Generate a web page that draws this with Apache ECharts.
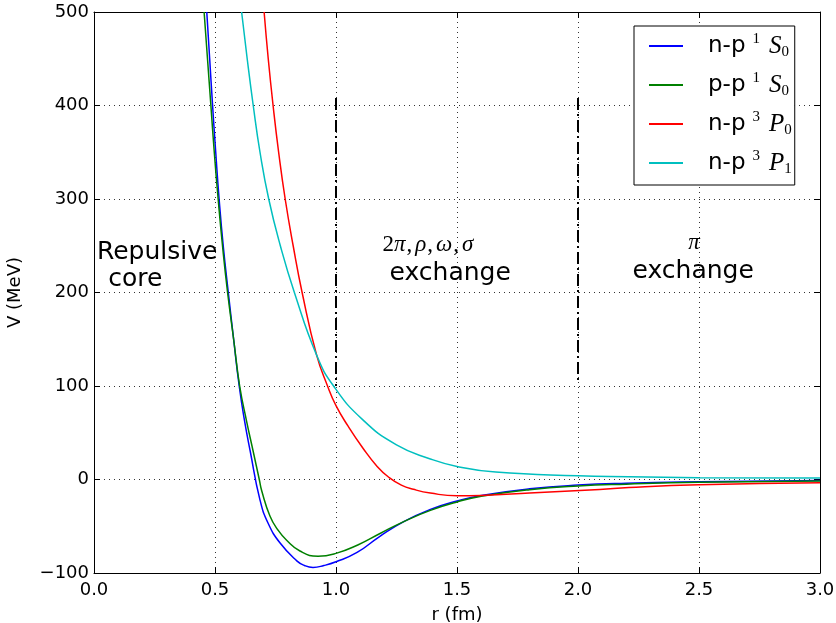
<!DOCTYPE html>
<html>
<head>
<meta charset="utf-8">
<script src="https://cdn.jsdelivr.net/npm/echarts@6/dist/echarts.min.js"></script>
<style>
  html, body { margin: 0; padding: 0; background: #fff; }
  #chart { width: 836px; height: 623px; }
</style>
</head>
<body>
<div id="chart"></div>
<script>
// Nucleon-nucleon potentials V(r) in MeV against separation r in fm.
const rNP1S0 = [0.466, 0.478, 0.490, 0.503, 0.517, 0.534, 0.555, 0.577, 0.600, 0.622, 0.645, 0.686, 0.720, 0.769, 0.838, 0.870, 0.905, 0.950, 1.000, 1.087, 1.180, 1.280, 1.390, 1.500, 1.600, 1.800, 2.000, 2.200, 2.500, 3.000];
const vNP1S0 = [500, 450, 400, 350, 300, 250, 200, 150, 100, 63, 31, -22, -47, -68, -87, -92, -94, -92, -88, -78, -61, -45, -32, -23, -17, -10, -6, -4, -2.5, -1];

const rPP1S0 = [0.455, 0.469, 0.483, 0.497, 0.513, 0.531, 0.552, 0.577, 0.602, 0.630, 0.657, 0.683, 0.693, 0.727, 0.760, 0.796, 0.851, 0.926, 1.000, 1.090, 1.180, 1.280, 1.390, 1.500, 1.600, 1.800, 2.000, 2.200, 2.500, 3.000];
const vPP1S0 = [500, 450, 400, 350, 300, 250, 200, 150, 100, 63, 31, 0, -12, -39, -54, -65, -76.5, -82, -79, -70, -58, -45, -33, -24, -18, -11, -7, -5, -3, -1.5];

const rNP3P0 = [0.703, 0.720, 0.740, 0.763, 0.790, 0.823, 0.860, 0.920, 0.965, 1.000, 1.050, 1.110, 1.170, 1.220, 1.270, 1.320, 1.390, 1.500, 1.600, 1.800, 2.090, 2.210, 2.500, 3.000];
const vNP3P0 = [500, 450, 400, 350, 300, 250, 200, 133, 100, 79, 57, 34, 14, 2, -6, -10.5, -14.5, -17.5, -17, -14.5, -10.7, -8.6, -5.7, -3.5];

const rNP3P1 = [0.610, 0.633, 0.658, 0.686, 0.722, 0.770, 0.828, 0.920, 0.990, 1.110, 1.250, 1.390, 1.500, 1.660, 2.000, 2.210, 2.500, 3.000];
const vNP3P1 = [500, 450, 400, 350, 300, 250, 200, 133, 100, 64, 37, 22, 14, 8, 4, 3, 2, 1.5];

// Legend pieces: pair, spin multiplicity, orbital letter, total J
const curveNames = ['n-p 1S0', 'p-p 1S0', 'n-p 3P0', 'n-p 3P1'];
const pairLabels = ['n-p', 'p-p', 'n-p', 'n-p'];
const spinLabels = ['1', '1', '3', '3'];
const waveLabels = ['S', 'S', 'P', 'P'];
const jLabels = ['0', '0', '0', '1'];
const curveColors = ['#0000ff', '#008000', '#ff0000', '#00bfbf'];

// Axis ticks
const xTickStep = 0.5, xMin = 0, xMax = 3;
const yTickStep = 100, yMin = -100, yMax = 500;

// Region boundaries (dash-dot) at r = 1 fm and 2 fm
const dividerR = [1.0, 2.0];
const dividerTop = [408, 408];
const dividerBottom = [100, 105];

// Region annotations
const notes = [
  { text: 'Repulsive', r: 0.012, v: 243, align: 'left', kind: 'sans' },
  { text: ' core', r: 0.026, v: 214, align: 'left', kind: 'sans' },
  { text: '{n|2}{g|π}{c|,}{g|ρ}{c|,}{g|ω}{c|,}{g|σ}', r: 1.192, v: 251, align: 'left', kind: 'math' },
  { text: 'exchange', r: 1.472, v: 220, align: 'center', kind: 'sans' },
  { text: '{g|π}', r: 2.479, v: 253, align: 'center', kind: 'math' },
  { text: 'exchange', r: 2.476, v: 222, align: 'center', kind: 'sans' }
];

const SANS = 'DejaVu Sans';
const SERIF = 'Liberation Serif';

const curves = [
  [rNP1S0, vNP1S0], [rPP1S0, vPP1S0], [rNP3P0, vNP3P0], [rNP3P1, vNP3P1]
];

const toPairs = (rs, vs) => rs.map((r, i) => [r, vs[i]]);

const lineSeries = curves.map((c, i) => ({
  name: curveNames[i],
  type: 'line',
  data: toPairs(c[0], c[1]),
  smooth: 0.5,
  symbol: 'none',
  clip: true,
  color: curveColors[i],
  lineStyle: { color: curveColors[i], width: 1.5 },
  emphasis: { disabled: true },
  z: 3
}));

const dividerSeries = dividerR.map((r, i) => ({
  name: 'divider' + i,
  type: 'line',
  data: [[r, dividerTop[i]], [r, dividerBottom[i]]],
  symbol: 'none',
  silent: true,
  lineStyle: { color: '#000', width: 2, type: [12, 4, 2, 4] },
  z: 2
}));

const fmtY = v => (v < 0 ? '\u2212' + Math.abs(v) : String(v));
const fmtX = v => v.toFixed(1);

const chart = echarts.init(document.getElementById('chart'), null, { renderer: 'canvas' });

chart.setOption({
  animation: false,
  backgroundColor: '#fff',
  grid: { left: 94, right: 16, top: 12, bottom: 50, containLabel: false, outerBoundsMode: 'none' },
  xAxis: [
    {
      type: 'value', min: xMin, max: xMax, interval: xTickStep,
      name: 'r (fm)', nameLocation: 'middle', nameGap: 33,
      nameTextStyle: { fontFamily: SANS, fontSize: 18, color: '#000' },
      axisLine: { onZero: false, lineStyle: { color: '#000', width: 1 } },
      axisTick: { inside: true, length: 6, lineStyle: { color: '#000' } },
      axisLabel: { formatter: fmtX, fontFamily: SANS, fontSize: 18, color: '#000', margin: 8 },
      splitLine: { show: true, lineStyle: { color: '#333', width: 1, type: [1, 4] } }
    },
    {
      type: 'value', min: xMin, max: xMax, interval: xTickStep, position: 'top',
      axisLine: { onZero: false, lineStyle: { color: '#000', width: 1 } },
      axisTick: { inside: true, length: 6, lineStyle: { color: '#000' } },
      axisLabel: { show: false }, splitLine: { show: false }
    }
  ],
  yAxis: [
    {
      type: 'value', min: yMin, max: yMax, interval: yTickStep,
      name: 'V (MeV)', nameLocation: 'middle', nameGap: 70,
      nameTextStyle: { fontFamily: SANS, fontSize: 18, color: '#000' },
      axisLine: { show: true, onZero: false, lineStyle: { color: '#000', width: 1 } },
      axisTick: { show: true, inside: true, length: 6, lineStyle: { color: '#000' } },
      axisLabel: { formatter: fmtY, fontFamily: SANS, fontSize: 18, color: '#000', margin: 5 },
      splitLine: { show: true, lineStyle: { color: '#333', width: 1, type: [1, 4] } }
    },
    {
      type: 'value', min: yMin, max: yMax, interval: yTickStep, position: 'right',
      axisLine: { show: true, onZero: false, lineStyle: { color: '#000', width: 1 } },
      axisTick: { show: true, inside: true, length: 6, lineStyle: { color: '#000' } },
      axisLabel: { show: false }, splitLine: { show: false }
    }
  ],
  legend: {
    data: curveNames,
    orient: 'vertical',
    left: 634, top: 26,
    padding: [6, 3, 8, 15],
    itemWidth: 34, itemHeight: 2, icon: 'rect', itemGap: 11,
    backgroundColor: '#fff', borderColor: '#000', borderWidth: 1, borderRadius: 0,
    selectedMode: false,
    formatter: name => {
      const i = curveNames.indexOf(name);
      return '{gap|}{t|' + pairLabels[i] + '}{sp|}{sup|' + spinLabels[i] + '}{sp2|}{it|' + waveLabels[i] + '}{sub|' + jLabels[i] + '}';
    },
    textStyle: {
      color: '#000',
      rich: {
        gap: { width: 20, lineHeight: 28 },
        t: { fontFamily: SANS, fontSize: 23, lineHeight: 28, color: '#000' },
        sp: { width: 7, lineHeight: 28 },
        sp2: { width: 9, lineHeight: 28 },
        sup: { fontFamily: SERIF, fontSize: 15, lineHeight: 28, verticalAlign: 'top', padding: [0, 0, 10, 0], color: '#000' },
        it: { fontFamily: SERIF, fontStyle: 'italic', fontSize: 25, lineHeight: 28, color: '#000' },
        sub: { fontFamily: SERIF, fontSize: 15, lineHeight: 28, verticalAlign: 'bottom', padding: [8, 0, 0, 0], color: '#000' }
      }
    }
  },
  series: lineSeries.concat(dividerSeries)
});

// Region labels placed in data coordinates
const graphics = notes.map(n => {
  const p = chart.convertToPixel({ xAxisIndex: 0, yAxisIndex: 0 }, [n.r, n.v]);
  const style = n.kind === 'sans'
    ? { text: n.text, fontFamily: SANS, fontSize: 25, fill: '#000', align: n.align, verticalAlign: 'middle' }
    : {
        text: n.text, align: n.align, verticalAlign: 'middle', fill: '#000',
        rich: {
          n: { fontFamily: SERIF, fontSize: 23, color: '#000' },
          c: { fontFamily: SERIF, fontSize: 23, color: '#000', padding: [0, 3, 0, 1] },
          g: { fontFamily: SERIF, fontStyle: 'italic', fontSize: 23, color: '#000' }
        }
      };
  return { type: 'text', x: p[0], y: p[1], style: style, silent: true, z: 10 };
});
chart.setOption({ graphic: graphics });
</script>
</body>
</html>
